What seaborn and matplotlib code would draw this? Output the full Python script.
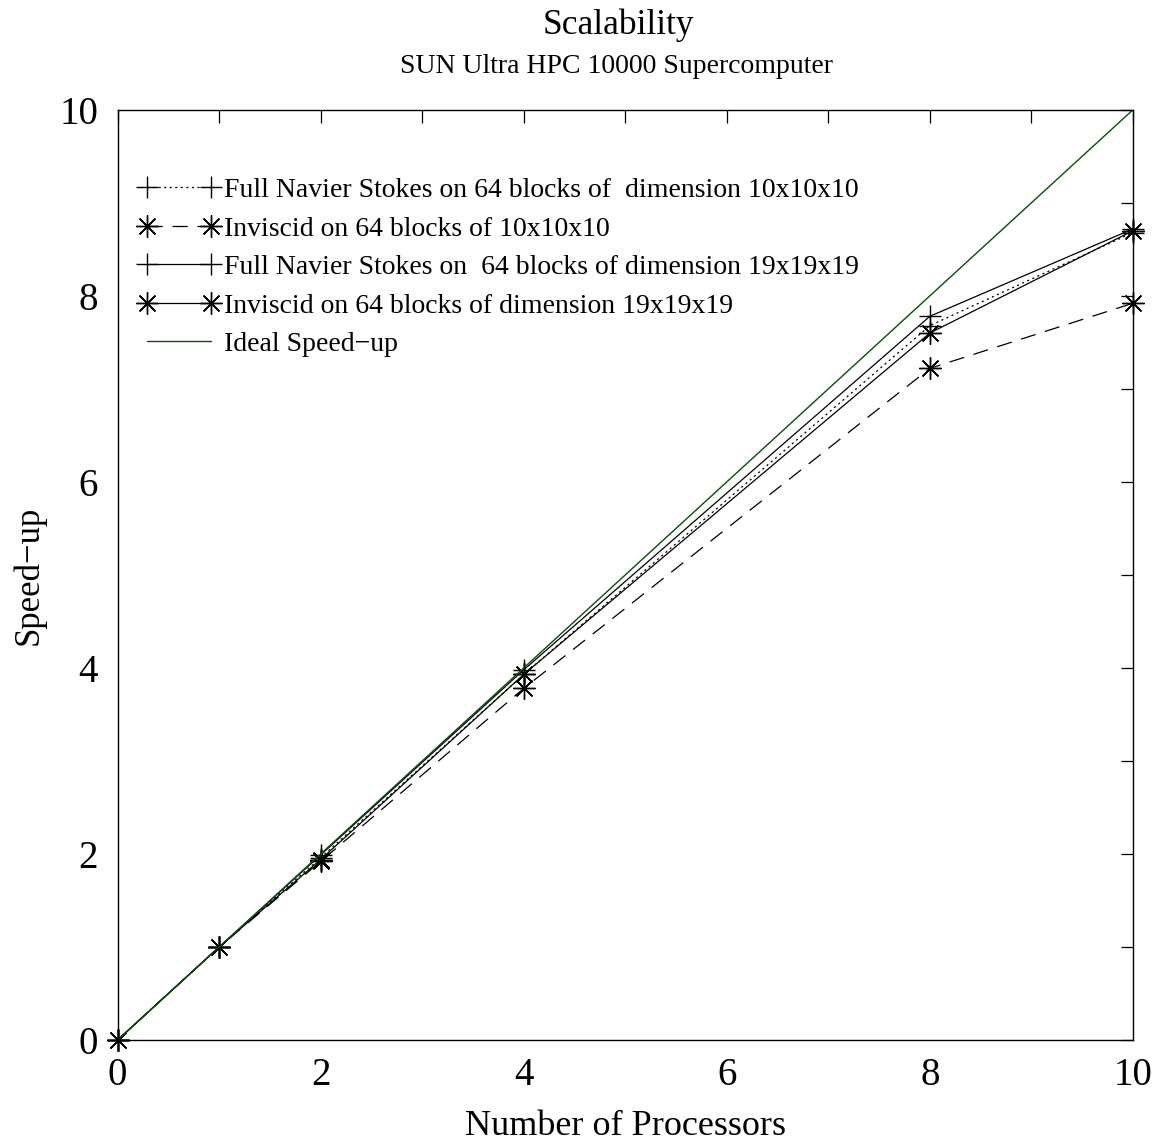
import matplotlib
matplotlib.use("Agg")
import matplotlib.pyplot as plt
import seaborn as sns
import pandas as pd
from matplotlib.ticker import MultipleLocator

# Speed-up measurements per processor count
procs = [0, 1, 2, 4, 8, 10]
full_ns_10 = [0.0, 1.0, 1.96, 3.93, 7.68, 8.68]
inviscid_10 = [0.0, 1.0, 1.92, 3.78, 7.22, 7.92]
full_ns_19 = [0.0, 1.0, 1.99, 3.98, 7.78, 8.72]
inviscid_19 = [0.0, 1.0, 1.94, 3.93, 7.60, 8.70]
ideal_x = [0, 10]
ideal_y = [0, 10]

labels = [
    "Full Navier Stokes on 64 blocks of  dimension 10x10x10",
    "Inviscid on 64 blocks of 10x10x10",
    "Full Navier Stokes on  64 blocks of dimension 19x19x19",
    "Inviscid on 64 blocks of dimension 19x19x19",
    "Ideal Speed\u2212up",
]

sns.set_theme(style="white")
plt.rcParams["font.family"] = ["Liberation Serif", "DejaVu Serif"]
plt.rcParams["lines.scale_dashes"] = False
for key in ("text.color", "axes.labelcolor", "xtick.color", "ytick.color"):
    plt.rcParams[key] = "black"

fig = plt.figure(figsize=(11.65, 11.47), dpi=100)
ax = fig.add_axes([0.101, 0.0933, 0.8715, 0.811])

star = (8, 2, 0)
styles = [
    (full_ns_10, "+", (0, (1.5, 2.5))),
    (inviscid_10, star, (0, (11, 7))),
    (full_ns_19, "+", "-"),
    (inviscid_19, star, "-"),
]

for (vals, mk, ls), lab in zip(styles, labels[:4]):
    df = pd.DataFrame({"procs": procs, "speedup": vals})
    sns.lineplot(data=df, x="procs", y="speedup", ax=ax, color="black",
                 linestyle=ls, linewidth=0.9, marker=mk, markersize=16,
                 markeredgewidth=1.0, markeredgecolor="black", label=lab,
                 clip_on=False)

df_ideal = pd.DataFrame({"procs": ideal_x, "speedup": ideal_y})
sns.lineplot(data=df_ideal, x="procs", y="speedup", ax=ax, color="#0b4d0b",
             linewidth=1.0, label=labels[4])

ax.set_xlim(0, 10)
ax.set_ylim(0, 10)
ax.xaxis.set_major_locator(MultipleLocator(2))
ax.xaxis.set_minor_locator(MultipleLocator(1))
ax.yaxis.set_major_locator(MultipleLocator(2))
ax.yaxis.set_minor_locator(MultipleLocator(1))
ax.tick_params(which="both", direction="in", top=True, right=True,
               length=9, width=0.9, color="black")
ax.tick_params(which="major", labelsize=28)
ax.tick_params(axis="x", which="major", pad=12)
ax.tick_params(axis="y", which="major", pad=14)
for sp in ax.spines.values():
    sp.set_color("black")
    sp.set_linewidth(1.0)

ax.set_xlabel("Number of Processors", fontsize=26, labelpad=12)
ax.set_ylabel("Speed\u2212up", fontsize=25, labelpad=10)

fig.text(0.531, 0.978, "Scalability", ha="center", va="center", fontsize=25.5)
fig.text(0.529, 0.942, "SUN Ultra HPC 10000 Supercomputer", ha="center",
         va="center", fontsize=20)

leg = ax.legend(loc="upper left", bbox_to_anchor=(0.01, 0.939), frameon=False,
                fontsize=20, numpoints=2, handlelength=2.9, handletextpad=0.18,
                labelspacing=0.47, borderaxespad=0)

fig.savefig("out.png", dpi=100)
